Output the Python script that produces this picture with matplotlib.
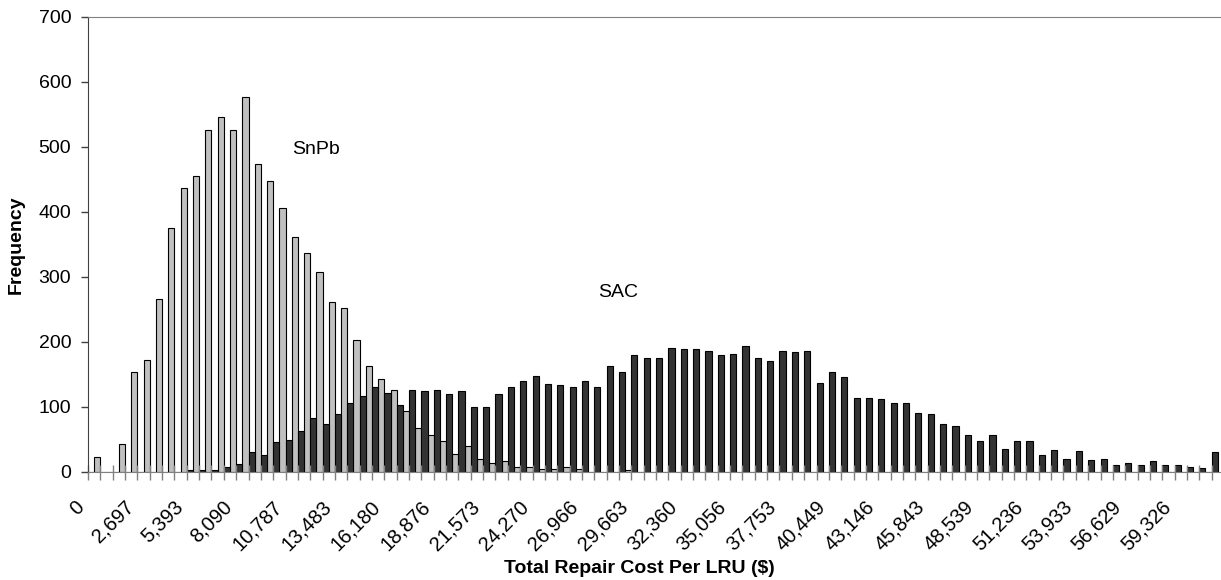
import numpy as np
import matplotlib
matplotlib.use("Agg")
import matplotlib.pyplot as plt

plt.rcParams["font.family"] = ["Liberation Sans", "DejaVu Sans"]

# ==========================================================
# DATA (frequency per cost bin)
# ==========================================================

# SnPb solder, bins 0..91
snpb = [0, 23, 0, 42, 154, 172, 266, 375, 436, 455,
        525, 546, 525, 576, 473, 448, 406, 361, 336, 308,
        261, 252, 203, 163, 142, 126, 93, 68, 56, 47,
        28, 39, 20, 14, 16, 7, 7, 4, 4, 7,
        4, 0, 0, 0, 2, 0, 0, 0, 0, 0,
        0, 0, 0, 0, 0, 0, 0, 0, 0, 0,
        0, 0, 0, 0, 0, 0, 0, 0, 0, 0,
        0, 0, 0, 0, 0, 0, 0, 0, 0, 0,
        0, 0, 0, 0, 0, 0, 0, 0, 0, 0,
        0, 0]

# SAC solder, bins 0..91
sac = [0, 0, 0, 0, 0, 0, 0, 0, 2, 2,
       2, 7, 12, 30, 26, 46, 49, 63, 82, 74,
       89, 105, 117, 131, 121, 103, 126, 124, 126, 119,
       124, 100, 100, 119, 131, 140, 147, 135, 133, 131,
       140, 131, 163, 154, 179, 175, 175, 191, 189, 189,
       186, 180, 181, 193, 175, 170, 186, 184, 186, 137,
       154, 145, 114, 114, 112, 105, 105, 91, 89, 74,
       70, 56, 47, 56, 35, 47, 47, 26, 33, 20,
       32, 18, 20, 10, 14, 11, 16, 10, 10, 7,
       5, 30]

# every 4th bin is labelled
tick_labels = ["0", "2,697", "5,393", "8,090", "10,787", "13,483", "16,180",
               "18,876", "21,573", "24,270", "26,966", "29,663", "32,360",
               "35,056", "37,753", "40,449", "43,146", "45,843", "48,539",
               "51,236", "53,933", "56,629", "59,326"]

n_bins = len(sac)
x = np.arange(n_bins)

# ==========================================================
# FIGURE
# ==========================================================

fig = plt.figure(figsize=(12.21, 5.80), dpi=100)
ax = fig.add_axes([88 / 1221, 108.3 / 580, 1136 / 1221, 455 / 580])

ax.bar(x - 0.25, snpb, width=0.5, color="#c0c0c0", edgecolor="black", linewidth=0.8)
ax.bar(x + 0.25, sac, width=0.5, color="#333333", edgecolor="black", linewidth=0.8)

ax.set_xlim(0, 92)
ax.set_ylim(0, 700)

labels = [tick_labels[i // 4] if i % 4 == 0 and i // 4 < len(tick_labels) else ""
          for i in x]
ax.set_xticks(x)
ax.set_xticklabels(labels, rotation=45, ha="right", va="top", fontsize=14.5)
ax.tick_params(axis="x", direction="inout", length=10.8, width=1,
               color="#808080", pad=13)

ax.set_yticks(np.arange(0, 701, 100))
ax.tick_params(axis="y", direction="out", length=5, width=1,
               color="#404040", pad=7, labelsize=14)

ax.spines["left"].set_color("#404040")
ax.spines["bottom"].set_color("#808080")
ax.spines["top"].set_color("#808080")
ax.spines["right"].set_visible(False)

ax.set_ylabel("Frequency", fontsize=14, fontweight="bold")
ax.yaxis.set_label_coords(-0.0555, 0.5)
ax.set_xlabel("Total Repair Cost Per LRU ($)", fontsize=14, fontweight="bold")
ax.xaxis.set_label_coords(0.485, -0.195)

ax.text(18.5, 496, "SnPb", ha="center", va="center", fontsize=14)
ax.text(42.9, 275, "SAC", ha="center", va="center", fontsize=14)

fig.savefig("out.png", dpi=100)
